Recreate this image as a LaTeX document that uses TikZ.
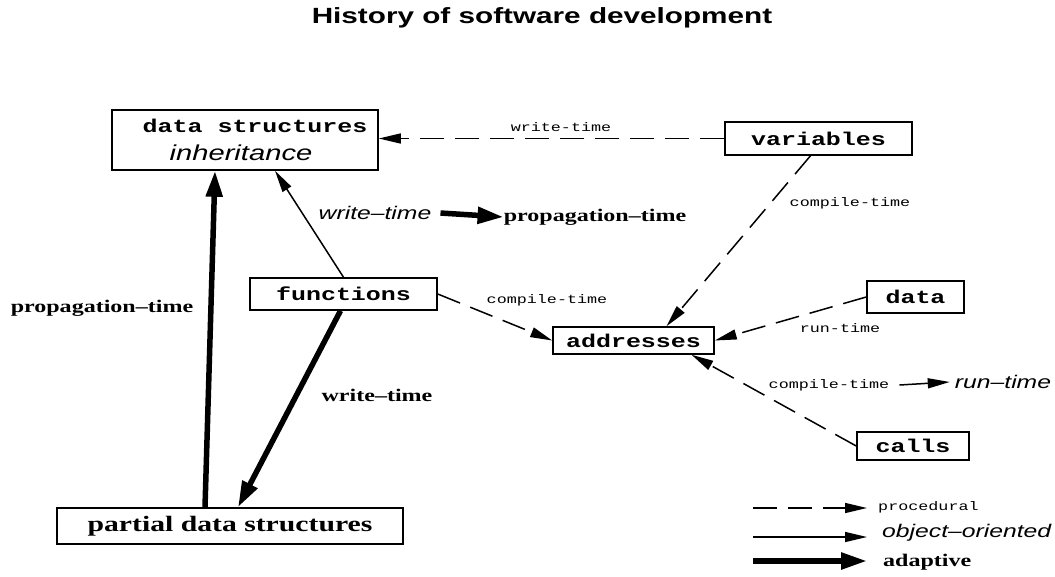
\documentclass[tikz,border=0pt]{standalone}
\usepackage{fontspec}
\usetikzlibrary{arrows.meta,positioning}
\newfontfamily\titlefont[FakeStretch=1.35]{Liberation Sans}
\newfontfamily\courfont[FakeStretch=1.35]{Liberation Mono}
\newfontfamily\helvfont[FakeStretch=1.35]{Liberation Sans}
\newfontfamily\timesfont[FakeStretch=1.35]{Liberation Serif}
\tikzset{
  box/.style={draw, line width=1.5pt, inner sep=0pt,
    font=\courfont\bfseries\fontsize{18.5}{22}\selectfont},
  proc/.style={-{Triangle[length=22pt,width=10pt]}, line width=1.5pt,
    dash pattern=on 24pt off 11pt},
  oo/.style={-{Triangle[length=22pt,width=10pt]}, line width=1.5pt},
  adapt/.style={-{Triangle[length=26pt,width=16pt]}, line width=5.5pt},
  smallmono/.style={font=\courfont\fontsize{12.4}{14}\selectfont, inner sep=0pt},
  italabel/.style={font=\helvfont\itshape\fontsize{18.3}{22}\selectfont, inner sep=0pt},
  boldlabel/.style={font=\timesfont\bfseries\fontsize{17.8}{21}\selectfont, inner sep=0pt}
}
\begin{document}
\begin{tikzpicture}[x=1pt,y=-1pt]
\useasboundingbox (0,0) rectangle (1055,576);
\node[font=\titlefont\bfseries\fontsize{22}{26}\selectfont] (title) at (542,18)
  {History of software development};

% boxes
\node[box, minimum width=266pt, minimum height=60pt, align=center] (ds) at (245,140)
  {\hspace*{20pt}data structures\\[6pt]{\helvfont\mdseries\itshape\fontsize{21.6}{24}\selectfont inheritance\hspace*{8pt}}};
\node[box, minimum width=187pt, minimum height=33pt] (var) at (818.5,138.5) {variables};
\node[box, minimum width=187pt, minimum height=32pt] (func) at (343.5,294) {functions};
\node[box, minimum width=161pt, minimum height=27pt] (addr) at (633.5,340.5) {addresses};
\node[box, minimum width=97pt, minimum height=32pt] (data) at (915.5,297) {data};
\node[box, minimum width=112pt, minimum height=28pt] (calls) at (913,446) {calls};
\node[box, minimum width=346pt, minimum height=36pt,
  font=\timesfont\bfseries\fontsize{22}{26}\selectfont] (pds) at (230,526)
  {partial data structures};

% connectors
\draw[proc] (var.west) -- (var.west -| ds.east);
\draw[proc] ([xshift=-8pt]var.south) -- ([xshift=33pt]addr.north);
\draw[proc] (func.east) -- (addr.west);
\draw[proc] (data.west) -- (addr.east);
\draw[proc] (calls.west) -- ([xshift=58pt]addr.south);
\draw[oo] (func.north) -- ([xshift=30pt]ds.south);
\draw[adapt] ([xshift=-25pt]pds.north) -- ([xshift=-30pt]ds.south);
\draw[adapt] ([xshift=-3pt]func.south) -- ([xshift=8pt]pds.north);

% labels
\node[smallmono] (lwt) at (561,127) {write-time};
\node[smallmono] (lvc) at (850,203) {compile-time};
\node[smallmono] (lfc) at (547,300) {compile-time};
\node[smallmono] (lrt) at (840,328) {run-time};
\node[smallmono] (lcc) at (829,385) {compile-time};
\node[italabel] (lcr) at (1003,382) {run–time};
\draw[oo] ([xshift=10pt]lcc.east) -- ([xshift=-5pt]lcr.west);
\node[italabel] (lfw) at (375,213) {write–time};
\node[boldlabel] (lfp) at (595,217) {propagation–time};
\draw[adapt] ([xshift=9pt]lfw.east) -- (lfp.west);
\node[boldlabel] (lpp) at (102,308) {propagation–time};
\node[boldlabel] (lpw) at (377,395) {write–time};

% legend
\coordinate (kp) at (753,508);
\node[smallmono, anchor=west] (kproc) at (878,507) {procedural};
\draw[proc] (kp) -- ([xshift=-11pt]kproc.west |- kp);
\coordinate (ko) at (753,537);
\node[italabel, anchor=west] (koo) at (882,533) {object–oriented};
\draw[oo] (ko) -- ([xshift=-15pt]koo.west |- ko);
\coordinate (ka) at (753,561);
\node[boldlabel, anchor=west] (kad) at (883,562) {adaptive};
\draw[adapt] (ka) -- ([xshift=-16pt]kad.west |- ka);
\end{tikzpicture}
\end{document}
